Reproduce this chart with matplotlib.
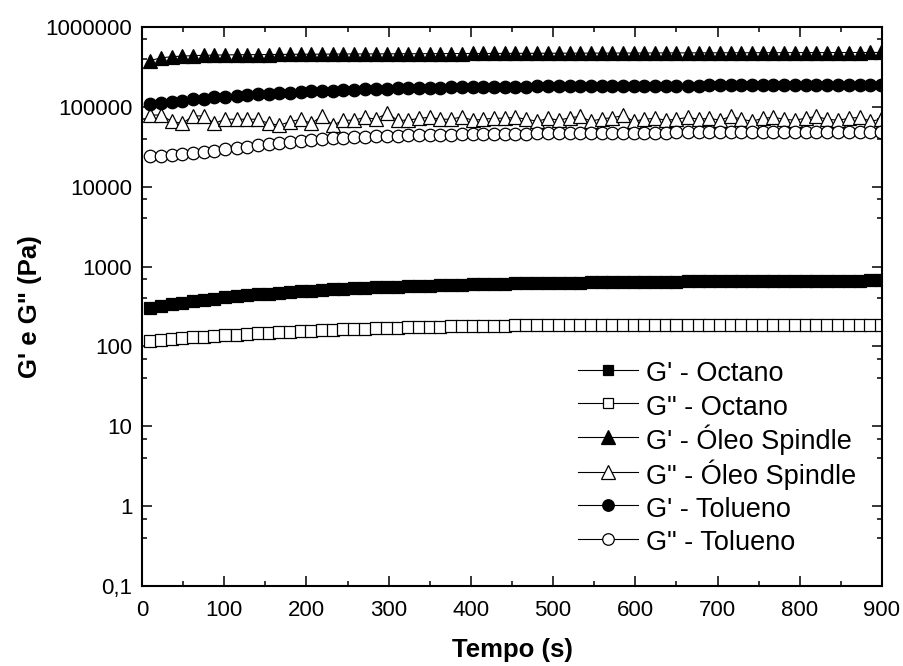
import matplotlib
matplotlib.use("Agg")
import matplotlib.pyplot as plt
from matplotlib.lines import Line2D
from matplotlib.ticker import LogLocator, FixedLocator, FuncFormatter, NullFormatter, MultipleLocator

plt.rcParams['font.family'] = ['Liberation Sans', 'DejaVu Sans']

# Time (s)
tempo = [10, 23, 36, 49, 62, 75, 88, 101, 115, 128,
         141, 154, 167, 180, 193, 206, 219, 232, 245, 258,
         271, 284, 298, 311, 324, 337, 350, 363, 376, 389,
         402, 415, 428, 441, 454, 467, 481, 494, 507, 520,
         533, 546, 559, 572, 585, 598, 611, 624, 637, 650,
         664, 677, 690, 703, 716, 729, 742, 755, 768, 781,
         794, 807, 820, 833, 847, 860, 873, 886, 899]

# Octano (Pa)
g1_octano = [300, 318, 335, 351, 366, 381, 395, 410, 423, 436,
             448, 459, 470, 481, 491, 500, 509, 517, 525, 533,
             541, 548, 555, 561, 567, 573, 578, 584, 589, 594,
             598, 602, 606, 610, 614, 617, 620, 623, 626, 629,
             631, 634, 636, 638, 640, 642, 644, 646, 648, 649,
             651, 652, 654, 655, 656, 658, 659, 660, 661, 662,
             663, 664, 665, 666, 667, 668, 669, 670, 671]
g2_octano = [118, 121, 124, 127, 130, 133, 136, 138, 141, 143,
             146, 148, 150, 153, 155, 157, 159, 161, 163, 165,
             166, 168, 170, 171, 173, 174, 175, 177, 178, 179,
             180, 181, 182, 182, 183, 183, 184, 184, 184, 185,
             185, 185, 185, 185, 186, 186, 186, 186, 186, 186,
             186, 186, 186, 186, 186, 187, 187, 187, 186, 186,
             186, 186, 186, 186, 185, 185, 185, 185, 185]

# Óleo Spindle (kPa)
g1_spindle_k = [380, 410, 425, 432, 438, 442, 445, 447, 449, 450,
                451, 452, 453, 455, 456, 456, 457, 458, 459, 460,
                460, 461, 461, 462, 463, 463, 464, 464, 465, 465,
                466, 466, 467, 467, 468, 468, 469, 469, 470, 470,
                470, 471, 471, 472, 472, 472, 473, 473, 474, 474,
                474, 475, 475, 475, 476, 476, 476, 477, 477, 477,
                478, 478, 478, 478, 479, 479, 479, 480, 480]
g2_spindle_k = [79, 79, 66, 62, 77, 77, 62, 70, 70, 70,
                70, 62, 59, 65, 70, 62, 77, 59, 68, 68,
                74, 70, 83, 68, 68, 72, 74, 70, 70, 75,
                68, 70, 72, 72, 74, 70, 66, 72, 68, 73,
                76, 66, 71, 73, 78, 66, 70, 72, 68, 70,
                74, 70, 72, 68, 76, 70, 66, 72, 74, 70,
                68, 72, 76, 70, 68, 72, 74, 66, 70]

# Tolueno (kPa)
g1_tolueno_k = [108, 112, 116, 120, 124, 127, 131, 134, 138, 141,
                144, 146, 149, 151, 154, 156, 158, 160, 162, 164,
                166, 167, 169, 170, 171, 172, 173, 174, 175, 176,
                177, 177, 178, 178, 179, 179, 180, 180, 181, 181,
                182, 182, 183, 183, 183, 184, 184, 184, 185, 185,
                185, 185, 186, 186, 186, 186, 186, 187, 187, 187,
                187, 187, 187, 188, 188, 188, 188, 188, 188]
g2_tolueno_k = [24.0, 24.3, 24.8, 25.5, 26.3, 27.2, 28.2, 29.3, 30.5, 31.8,
                33.0, 34.3, 35.5, 36.7, 37.8, 38.8, 39.7, 40.5, 41.2, 41.8,
                42.3, 42.8, 43.2, 43.6, 43.9, 44.2, 44.5, 44.7, 44.9, 45.1,
                45.3, 45.5, 45.7, 45.9, 46.1, 46.3, 46.4, 46.6, 46.7, 46.8,
                46.9, 47.0, 47.1, 47.2, 47.3, 47.4, 47.5, 47.6, 47.7, 47.8,
                47.9, 48.0, 48.0, 48.1, 48.1, 48.2, 48.2, 48.2, 48.2, 48.1,
                48.1, 48.0, 48.0, 48.0, 47.9, 47.9, 47.9, 47.8, 47.8]

labels = ["G' - Octano", 'G" - Octano', "G' - Óleo Spindle",
          'G" - Óleo Spindle', "G' - Tolueno", 'G" - Tolueno']
y_ticks = [0.1, 1, 10, 100, 1000, 10000, 100000, 1000000]

# (values, marker, filled, plot marker size, legend marker size)
series = [
    (g1_octano, 's', True, 8.6, 6.5),
    (g2_octano, 's', False, 8.6, 6.5),
    ([v * 1000 for v in g1_spindle_k], '^', True, 10.0, 9.5),
    ([v * 1000 for v in g2_spindle_k], '^', False, 10.0, 9.5),
    ([v * 1000 for v in g1_tolueno_k], 'o', True, 9.0, 8.3),
    ([v * 1000 for v in g2_tolueno_k], 'o', False, 9.0, 8.3),
]

fig = plt.figure(figsize=(9.04, 6.66), dpi=100)
ax = fig.add_axes([142 / 904, 1 - 586 / 666, 740 / 904, 559 / 666])

handles = []
for (vals, mk, filled, ms, lms), lab in zip(series, labels):
    style = dict(color='black', linewidth=0.8, marker=mk,
                 markerfacecolor='black' if filled else 'white',
                 markeredgecolor='black', markeredgewidth=0.9)
    ax.plot(tempo, vals, markersize=ms, label=lab, **style)
    handles.append(Line2D([], [], markersize=lms, label=lab, **style))

ax.set_yscale('log')
ax.set_xlim(0, 900)
ax.set_ylim(0.1, 1e6)

ax.xaxis.set_major_locator(MultipleLocator(100))
ax.xaxis.set_minor_locator(MultipleLocator(50))
ax.yaxis.set_major_locator(FixedLocator(y_ticks))
ax.yaxis.set_minor_locator(LogLocator(base=10, subs=(4, 7), numticks=20))
ax.yaxis.set_minor_formatter(NullFormatter())
ax.yaxis.set_major_formatter(FuncFormatter(
    lambda v, p: ('%g' % v).replace('.', ',') if v < 1 else '%d' % round(v)))

ax.tick_params(which='both', direction='in', top=True, right=True,
               width=1.1, labelsize=16, colors='black')
ax.tick_params(which='major', length=7.2)
ax.tick_params(which='minor', length=3.6)
ax.tick_params(axis='x', which='major', pad=10)
ax.tick_params(axis='y', which='major', pad=7)
for s in ax.spines.values():
    s.set_linewidth(1.5)

ax.set_xlabel('Tempo (s)', fontsize=18.5, fontweight='bold', labelpad=12)
ax.set_ylabel('G\' e G" (Pa)', fontsize=18.5, fontweight='bold', labelpad=2.5)

ax.legend(handles=handles, loc='upper left',
          bbox_to_anchor=(578 / 904, 1 - 358 / 666),
          bbox_transform=fig.transFigure, frameon=False, fontsize=19.5,
          handlelength=2.2, handleheight=1.25, handletextpad=0.3,
          labelspacing=0.145, borderpad=0, borderaxespad=0)

fig.savefig('out.png', dpi=100)
